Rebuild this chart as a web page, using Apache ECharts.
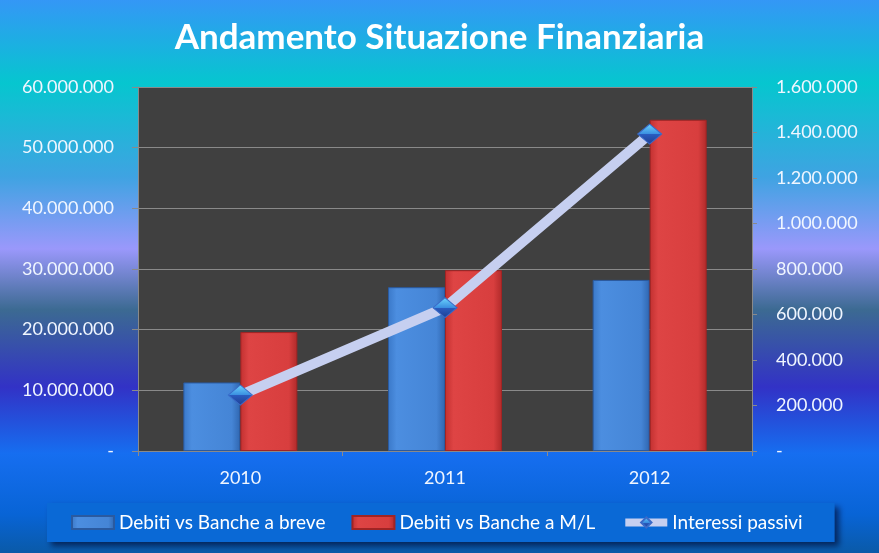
<!DOCTYPE html>
<html>
<head>
<meta charset="utf-8">
<script src="https://cdn.jsdelivr.net/npm/echarts@6/dist/echarts.min.js"></script>
<style>
html,body{margin:0;padding:0;width:879px;height:553px;overflow:hidden;}
#c{width:879px;height:553px;}
</style>
</head>
<body>
<div id="c"></div>
<script>
const categories = ['2010', '2011', '2012'];
const debitiBreve = [11300000, 27000000, 28200000];
const debitiML = [19600000, 29800000, 54600000];
const interessiPassivi = [246000, 630000, 1393000];
const leftTicks = ['-', '10.000.000', '20.000.000', '30.000.000', '40.000.000', '50.000.000', '60.000.000'];
const rightTicks = ['-', '200.000', '400.000', '600.000', '800.000', '1.000.000', '1.200.000', '1.400.000', '1.600.000'];

const chart = echarts.init(document.getElementById('c'));
const font = 'Lato, "Open Sans", sans-serif';
const bgGrad = new echarts.graphic.LinearGradient(0, 0, 0, 1, [
  {offset: 0, color: '#3497f6'},
  {offset: 0.15, color: '#06c6cf'},
  {offset: 0.32, color: '#3fa3e2'},
  {offset: 0.45, color: '#9a98fb'},
  {offset: 0.56, color: '#3c6a92'},
  {offset: 0.70, color: '#3232c6'},
  {offset: 0.82, color: '#166ef0'},
  {offset: 0.93, color: '#0864d6'},
  {offset: 1, color: '#0a5aa8'}
]);
const blueGrad = new echarts.graphic.LinearGradient(0, 0, 1, 0, [
  {offset: 0, color: '#3a78c8'},
  {offset: 0.15, color: '#4c8ee0'},
  {offset: 0.85, color: '#4585d6'},
  {offset: 1, color: '#2f66b0'}
]);
const redGrad = new echarts.graphic.LinearGradient(0, 0, 1, 0, [
  {offset: 0, color: '#c23030'},
  {offset: 0.15, color: '#de4444'},
  {offset: 0.85, color: '#d83e3e'},
  {offset: 1, color: '#b02a2a'}
]);
const diamondGrad = new echarts.graphic.LinearGradient(0, 0, 0, 1, [
  {offset: 0, color: '#6fd8ff'},
  {offset: 0.5, color: '#3a8ee0'},
  {offset: 0.51, color: '#2a5cc0'},
  {offset: 1, color: '#1e3e90'}
]);

chart.setOption({
  backgroundColor: bgGrad,
  animation: false,
  title: {
    text: 'Andamento Situazione Finanziaria',
    left: 'center',
    top: 15,
    textStyle: {color: '#ffffff', fontFamily: font, fontWeight: 'bold', fontSize: 35}
  },
  legend: {
    bottom: 11,
    left: 47,
    width: 800,
    itemWidth: 42,
    itemHeight: 13,
    itemGap: 26,
    padding: [10, 32, 10, 24],
    backgroundColor: '#0a69d6',
    shadowColor: 'rgba(0,0,30,0.6)',
    shadowBlur: 6,
    shadowOffsetX: 4,
    shadowOffsetY: 4,
    textStyle: {color: '#ffffff', fontFamily: font, fontSize: 19},
    data: [
      {name: 'Debiti vs Banche a breve', icon: 'rect'},
      {name: 'Debiti vs Banche a M/L', icon: 'rect'},
      {name: 'Interessi passivi', lineStyle: {width: 8, color: '#c6cff0'}}
    ]
  },
  grid: {left: 138, right: 127, top: 87, bottom: 102, show: true, backgroundColor: '#404040', borderWidth: 0},
  xAxis: {
    type: 'category',
    data: categories,
    axisLine: {lineStyle: {color: '#8a8a8a'}},
    axisTick: {show: true, lineStyle: {color: '#8a8a8a'}},
    axisLabel: {color: '#f0f6ff', fontFamily: font, fontSize: 18, margin: 18}
  },
  yAxis: [
    {
      type: 'value', min: 0, max: 60000000, interval: 10000000,
      axisLine: {show: true, lineStyle: {color: '#8a8a8a'}},
      axisTick: {show: true, length: 6, lineStyle: {color: '#8a8a8a'}},
      splitLine: {lineStyle: {color: '#8a8a8a'}},
      axisLabel: {color: '#f0f6ff', fontFamily: font, fontSize: 18, margin: 24,
        formatter: function (v) { return leftTicks[Math.round(v / 10000000)]; }}
    },
    {
      type: 'value', min: 0, max: 1600000, interval: 200000,
      axisLine: {show: true, lineStyle: {color: '#8a8a8a'}},
      axisTick: {show: true, length: 5, lineStyle: {color: '#8a8a8a'}},
      splitLine: {show: false},
      axisLabel: {color: '#f0f6ff', fontFamily: font, fontSize: 18, margin: 24,
        formatter: function (v) { return rightTicks[Math.round(v / 200000)]; }}
    }
  ],
  series: [
    {
      name: 'Debiti vs Banche a breve', type: 'bar', data: debitiBreve,
      barWidth: 57, barGap: '0%',
      itemStyle: {color: blueGrad, borderColor: '#2a5aa0', borderWidth: 1}
    },
    {
      name: 'Debiti vs Banche a M/L', type: 'bar', data: debitiML,
      barWidth: 57,
      itemStyle: {color: redGrad, borderColor: '#a02424', borderWidth: 1}
    },
    {
      name: 'Interessi passivi', type: 'line', yAxisIndex: 1, data: interessiPassivi,
      symbol: 'diamond', symbolSize: [24, 20],
      lineStyle: {color: '#c6cff0', width: 10},
      itemStyle: {color: diamondGrad, borderColor: '#3a6ac8', borderWidth: 1},
      z: 5
    }
  ]
});
</script>
</body>
</html>
